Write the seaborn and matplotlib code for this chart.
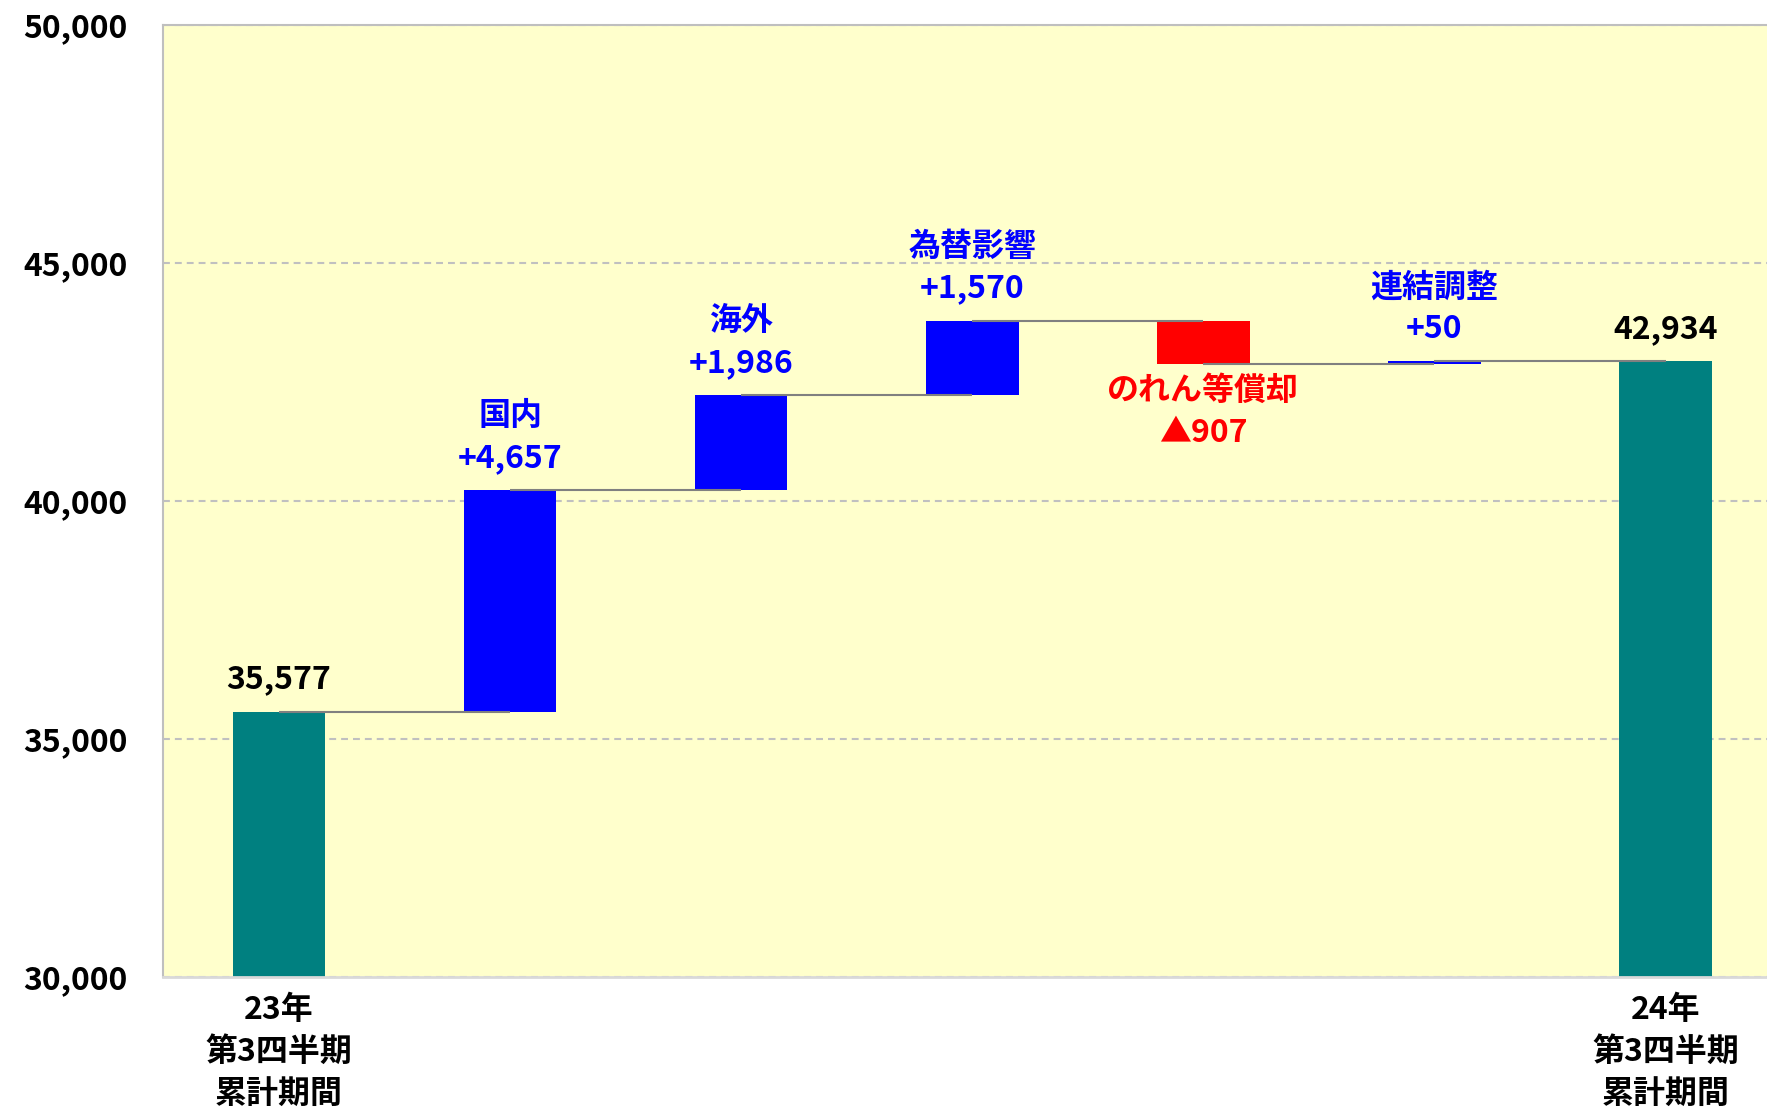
import numpy as np
import pandas as pd
import matplotlib
matplotlib.use("Agg")
import matplotlib.pyplot as plt
import seaborn as sns

# ---- data ----
categories = ["23年\n第3四半期\n累計期間", "国内", "海外", "為替影響", "のれん等償却", "連結調整",
              "24年\n第3四半期\n累計期間"]
values = [35577, 4657, 1986, 1570, -907, 50, 42934]
kinds = ["total", "inc", "inc", "inc", "dec", "inc", "total"]
value_labels = ["35,577", "+4,657", "+1,986", "+1,570", "▲907", "+50", "42,934"]
tick_labels = ["23年\n第3四半期\n累計期間", "", "", "", "", "", "24年\n第3四半期\n累計期間"]
yticks = [30000, 35000, 40000, 45000, 50000]

sns.set_style("white")
plt.rcParams["font.family"] = ["Noto Sans CJK JP", "DejaVu Sans"]

color_map = {"total": "#008080", "inc": "#0000FF", "dec": "#FF0000"}
text_map = {"total": "#000000", "inc": "#0000FF", "dec": "#FF0000"}

# running totals
bottoms = []
running = 0
levels = []
for v, k in zip(values, kinds):
    if k == "total":
        bottoms.append(0)
        running = v
    else:
        bottoms.append(running)
        running = running + v
    levels.append(running)
tops = [b + v for b, v in zip(bottoms, values)]

df = pd.DataFrame({"cat": categories, "val": values})

fig = plt.figure(figsize=(17.67, 11.10), dpi=100)
ax = fig.add_axes([0.0925, 0.1198, 0.9155, 0.8577])
ax.set_facecolor("#FFFFCC")

sns.barplot(data=df, x="cat", y="val", order=categories, bottom=bottoms,
            errorbar=None, width=0.4, color="#008080", ax=ax, zorder=2)
for patch, k in zip(ax.patches, kinds):
    patch.set_facecolor(color_map[k])
    patch.set_edgecolor("none")

# connectors
for i in range(len(values) - 1):
    ax.plot([i, i + 1], [levels[i], levels[i]], color="#808080", lw=1.5, zorder=3,
            solid_capstyle="butt")

ax.set_xlim(-0.5, 6.5)
ax.set_ylim(30000, 50000)
ax.set_yticks(yticks)
ax.set_yticklabels([f"{t:,}" for t in yticks], fontweight="bold")
ax.set_xticks(range(len(categories)))
ax.set_xticklabels(tick_labels, fontweight="bold", linespacing=1.4)
ax.set_xlabel("")
ax.set_ylabel("")
ax.tick_params(axis="y", length=0, pad=26, labelsize=23, labelcolor="black")
ax.tick_params(axis="x", length=0, pad=12, labelsize=23, labelcolor="black")

ax.yaxis.grid(True, color="#C0C0C0", lw=1.5, linestyle=(0, (3.3, 2.4)))
ax.xaxis.grid(False)
ax.set_axisbelow(True)

for s in ["top", "left"]:
    ax.spines[s].set_color("#BFBFBF")
    ax.spines[s].set_linewidth(1.5)
ax.spines["bottom"].set_color("#D9D9D9")
ax.spines["bottom"].set_linewidth(2)
ax.spines["right"].set_visible(False)

# annotations
for i, (k, lab) in enumerate(zip(kinds, value_labels)):
    c = text_map[k]
    if k == "dec":
        base = min(bottoms[i], tops[i])
        ax.annotate(categories[i], (i, base), xytext=(0, -27), textcoords="offset pixels",
                    ha="center", va="center", fontsize=23, fontweight="bold", color=c)
        ax.annotate(lab, (i, base), xytext=(0, -69), textcoords="offset pixels",
                    ha="center", va="center", fontsize=23, fontweight="bold", color=c)
    else:
        top = max(bottoms[i], tops[i])
        ax.annotate(lab, (i, top), xytext=(0, 32), textcoords="offset pixels",
                    ha="center", va="center", fontsize=23, fontweight="bold", color=c)
        if k == "inc":
            ax.annotate(categories[i], (i, top), xytext=(0, 74), textcoords="offset pixels",
                        ha="center", va="center", fontsize=23, fontweight="bold", color=c)

fig.savefig("out.png", dpi=100)
